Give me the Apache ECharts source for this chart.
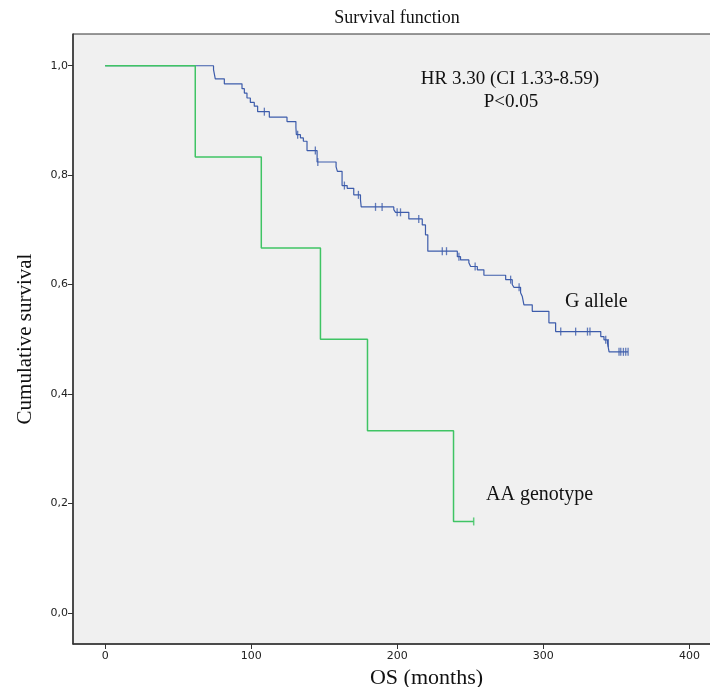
<!DOCTYPE html>
<html>
<head>
<meta charset="utf-8">
<script src="https://cdn.jsdelivr.net/npm/echarts@6/dist/echarts.min.js"></script>
<style>
  html, body { margin: 0; padding: 0; background: #fff; }
  #chart { width: 710px; height: 687px; }
</style>
</head>
<body>
<div id="chart"></div>
<script>
  // G allele curve: event times (months) and survival after each step
  var gAlleleTimes = [0, 74.2, 75.4, 81.6, 93.7, 95.3, 97.1, 99.4, 102.1, 104.4, 112.4, 124.5, 130.6, 130.9, 133.7, 135.7, 138.2, 145.1, 158.1, 159.0, 162.2, 165.7, 170.2, 174.8, 175.3, 197.6, 198.8, 207.9, 217.1, 219.3, 220.9, 241.1, 243.3, 249.0, 250.2, 254.8, 259.3, 274.2, 278.7, 279.8, 284.4, 285.6, 286.7, 292.4, 303.8, 308.4, 339.3, 341.5, 343.9, 345.0, 358.0];
  var gAlleleSurv = [1.000, 0.993, 0.976, 0.967, 0.958, 0.950, 0.941, 0.933, 0.926, 0.916, 0.906, 0.898, 0.887, 0.874, 0.868, 0.862, 0.845, 0.824, 0.815, 0.807, 0.781, 0.776, 0.764, 0.755, 0.742, 0.737, 0.732, 0.720, 0.709, 0.691, 0.661, 0.651, 0.645, 0.640, 0.633, 0.627, 0.617, 0.609, 0.600, 0.595, 0.585, 0.578, 0.563, 0.551, 0.530, 0.514, 0.505, 0.499, 0.493, 0.477, 0.477];
  // censored cases
  var gAlleleCensTimes = [109.0, 131.8, 143.9, 145.6, 163.8, 173.4, 185.1, 189.6, 199.9, 202.2, 214.7, 230.8, 233.7, 242.2, 253.3, 277.6, 283.4, 311.9, 322.1, 330.2, 331.9, 342.7, 344.5, 351.8, 353.0, 354.8, 356.4, 358.0];
  var gAlleleCensSurv = [0.916, 0.874, 0.845, 0.824, 0.781, 0.764, 0.742, 0.742, 0.732, 0.732, 0.720, 0.661, 0.661, 0.651, 0.633, 0.609, 0.595, 0.514, 0.514, 0.514, 0.514, 0.499, 0.493, 0.477, 0.477, 0.477, 0.477, 0.477];

  // AA genotype curve
  var aaTimes = [0, 61.7, 106.9, 147.4, 179.6, 238.5, 252.3];
  var aaSurv = [1.000, 0.833, 0.667, 0.500, 0.333, 0.167, 0.167];
  var aaCensTimes = [252.3];
  var aaCensSurv = [0.167];

  var xTicks = [0, 100, 200, 300, 400];
  var yTicks = [0, 0.2, 0.4, 0.6, 0.8, 1.0];

  function zip(a, b) {
    var out = [];
    for (var i = 0; i < a.length; i++) out.push([a[i], b[i]]);
    return out;
  }

  var blue = '#3d5cab';
  var green = '#3fc464';
  var serif = '"Liberation Serif", "DejaVu Serif", serif';

  var myChart = echarts.init(document.getElementById('chart'));
  myChart.setOption({
    animation: false,
    title: {
      text: 'Survival function',
      left: 392,
      top: 4,
      textAlign: 'center',
      textStyle: { fontFamily: serif, fontSize: 18, fontWeight: 'normal', color: '#111' }
    },
    grid: {
      left: 73,
      top: 34,
      width: 707,
      bottom: 43,
      outerBoundsMode: 'none',
      containLabel: false,
      show: true,
      backgroundColor: '#f0f0f0',
      borderColor: '#333',
      borderWidth: 1
    },
    xAxis: {
      type: 'value',
      min: -22,
      max: 462,
      name: 'OS (months)',
      nameLocation: 'middle',
      nameGap: 21,
      nameTextStyle: { fontFamily: serif, fontSize: 22, color: '#111' },
      axisLine: { show: true, onZero: false, lineStyle: { color: '#333', width: 1.5 } },
      axisTick: { show: true, length: 5, customValues: xTicks, lineStyle: { color: '#333' } },
      axisLabel: { customValues: xTicks, fontSize: 11, color: '#222', fontFamily: 'DejaVu Sans', margin: 7 },
      splitLine: { show: false }
    },
    yAxis: {
      type: 'value',
      min: -0.057,
      max: 1.058,
      name: 'Cumulative survival',
      nameLocation: 'middle',
      nameRotate: 90,
      nameGap: 37,
      nameTextStyle: { fontFamily: serif, fontSize: 21, color: '#111' },
      axisLine: { show: true, onZero: false, lineStyle: { color: '#333', width: 1.5 } },
      axisTick: { show: true, length: 5, customValues: yTicks, lineStyle: { color: '#333' } },
      axisLabel: {
        customValues: yTicks,
        fontSize: 11,
        color: '#222',
        fontFamily: 'DejaVu Sans',
        margin: 5,
        formatter: function (v) { return v.toFixed(1).replace('.', ','); }
      },
      splitLine: { show: false }
    },
    graphic: [
      { type: 'text', x: 510, y: 79, style: { text: 'HR 3.30 (CI 1.33-8.59)', font: '19px ' + serif, fill: '#111', align: 'center', verticalAlign: 'middle' } },
      { type: 'text', x: 511, y: 102, style: { text: 'P<0.05', font: '19px ' + serif, fill: '#111', align: 'center', verticalAlign: 'middle' } },
      { type: 'text', x: 565, y: 302, style: { text: 'G allele', font: '20px ' + serif, fill: '#111', align: 'left', verticalAlign: 'middle' } },
      { type: 'text', x: 486, y: 495, style: { text: 'AA genotype', font: '20px ' + serif, fill: '#111', align: 'left', verticalAlign: 'middle' } }
    ],
    series: [
      {
        name: 'G allele',
        type: 'line',
        step: 'end',
        data: zip(gAlleleTimes, gAlleleSurv),
        showSymbol: false,
        lineStyle: { color: blue, width: 1.2 },
        z: 2
      },
      {
        name: 'G allele censored',
        type: 'scatter',
        data: zip(gAlleleCensTimes, gAlleleCensSurv),
        symbol: 'rect',
        symbolSize: [1.3, 8],
        itemStyle: { color: blue },
        z: 3
      },
      {
        name: 'AA genotype',
        type: 'line',
        step: 'end',
        data: zip(aaTimes, aaSurv),
        showSymbol: false,
        lineStyle: { color: green, width: 1.5 },
        z: 4
      },
      {
        name: 'AA genotype censored',
        type: 'scatter',
        data: zip(aaCensTimes, aaCensSurv),
        symbol: 'rect',
        symbolSize: [1.5, 8],
        itemStyle: { color: green },
        z: 5
      }
    ]
  });
</script>
</body>
</html>
